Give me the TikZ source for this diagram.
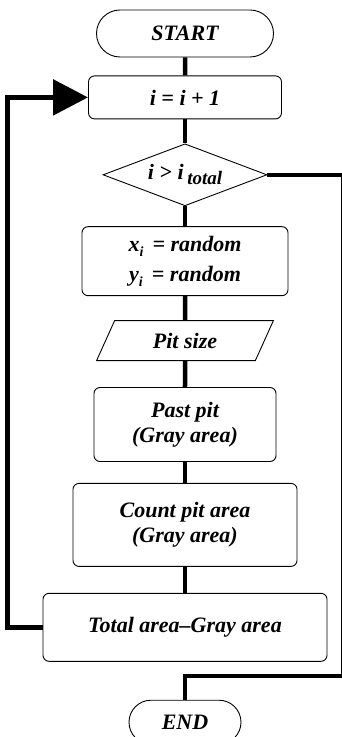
\documentclass[tikz,border=0pt]{standalone}
\usepackage{fontspec}
\setmainfont{Liberation Serif}
\usetikzlibrary{shapes.geometric, shapes.misc, arrows.meta, positioning}
\newcommand{\idx}[2][14]{\raisebox{-5pt}{\fontsize{#1}{#1}\selectfont #2}}
\tikzset{
  txt/.style={font=\bfseries\itshape\fontsize{22}{25}\selectfont,
    align=center, inner sep=0pt, draw, line width=0.9pt},
  proc/.style={txt, rectangle, rounded corners=6pt},
  term/.style={txt, rounded rectangle},
  dec/.style={txt, diamond, aspect=2.6},
  io/.style={txt, trapezium, trapezium left angle=62,
    trapezium right angle=118, trapezium stretches=true},
  conn/.style={line width=4.5pt},
  loopback/.style={line width=5.5pt, -{Triangle[length=35pt, width=35pt]}}
}
\begin{document}
\begin{tikzpicture}[x=1pt, y=1pt]
  \useasboundingbox (0,0) rectangle (342,737);
  \node[term, minimum width=177pt, minimum height=47pt] (start) at (185,703.5) {START};
  \node[proc, minimum width=193pt, minimum height=43pt, below=18pt of start] (inc)
        {i = i + 1};
  \node[dec, minimum width=164pt, minimum height=62pt, below=24pt of inc] (cond)
        {i > i\,\idx[19]{total}};
  \node[proc, minimum width=206pt, minimum height=69pt, below=20pt of cond,
        font=\bfseries\itshape\fontsize{22}{30}\selectfont] (rnd)
        {x\idx{i}\, = random\\y\idx{i}\, = random};
  \node[io, minimum width=177pt, minimum height=40pt, below=24pt of rnd] (pit) {Pit size};
  \node[proc, minimum width=182pt, minimum height=74pt, below=26pt of pit] (past)
        {Past pit\\(Gray area)};
  \node[proc, minimum width=224pt, minimum height=83pt, below=21pt of past] (cnt)
        {Count pit area\\(Gray area)};
  \node[proc, minimum width=284pt, minimum height=68pt, below=26pt of cnt] (tot)
        {Total area--Gray area};
  \node[term, minimum width=112pt, minimum height=44pt, below=38pt of tot] (stop) {END};

  \draw[conn] (start) -- (inc);
  \draw[conn] (inc)   -- (cond);
  \draw[conn] (cond)  -- (rnd);
  \draw[conn] (rnd)   -- (pit);
  \draw[conn] (pit)   -- (past);
  \draw[conn] (past)  -- (cnt);
  \draw[conn] (cnt)   -- (tot);

  % back to the counter
  \draw[loopback] (tot.west) -- ++(-35,0) |- (inc.west);

  % exit when done
  \coordinate (bend) at (343.3,61);
  \draw[conn] (cond.east) -| (bend) -| (stop.north);
\end{tikzpicture}
\end{document}
